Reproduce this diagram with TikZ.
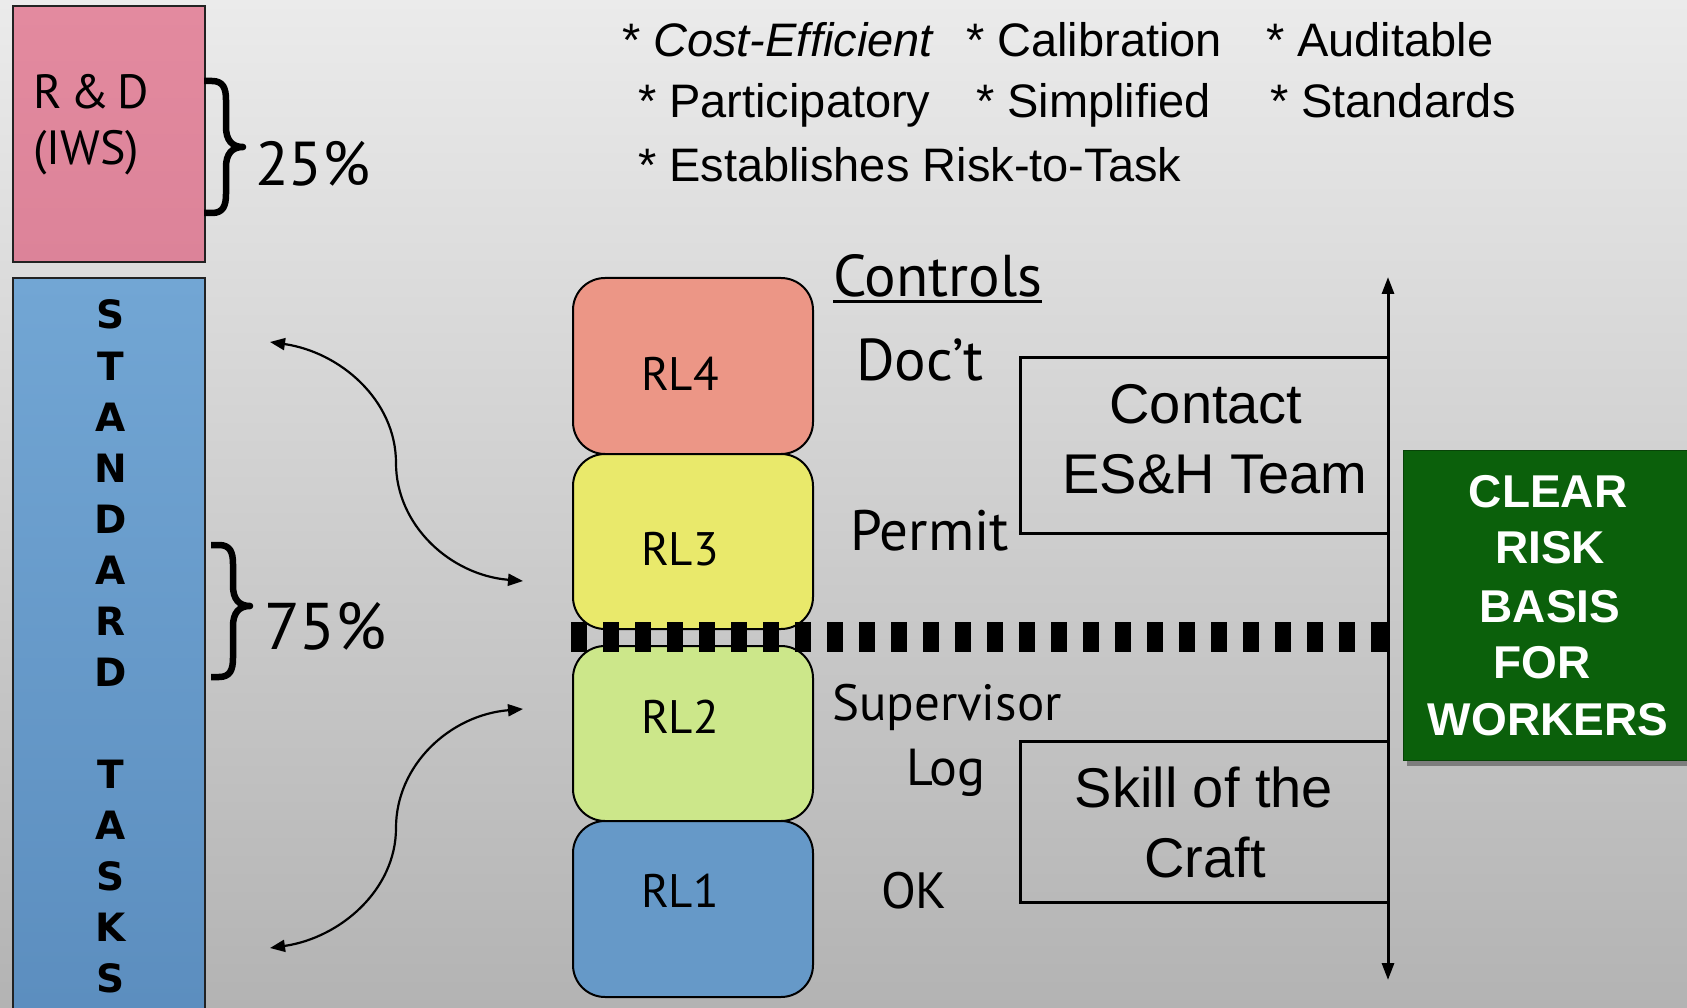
\documentclass[tikz,border=0pt]{standalone}
\usepackage{fontspec}
\setmainfont{Liberation Sans}
\newfontfamily\gill{PT Sans}
\newfontfamily\verd{DejaVu Sans}
\usetikzlibrary{arrows.meta}
\newcommand\setfs[1]{\fontsize{#1}{#1}\selectfont}
\definecolor{bgtop}{HTML}{EBEBEB}
\definecolor{bgbot}{HTML}{B3B3B3}
\definecolor{rdtop}{HTML}{E38A9F}
\definecolor{rdbot}{HTML}{DC8399}
\definecolor{sttop}{HTML}{72A6D4}
\definecolor{stbot}{HTML}{5B8DBE}
\definecolor{rlfour}{HTML}{EC9686}
\definecolor{rlthree}{HTML}{E9E96B}
\definecolor{rltwo}{HTML}{CCE78A}
\definecolor{rlone}{HTML}{6699C8}
\definecolor{grn}{HTML}{0B600B}
\definecolor{boxline}{HTML}{222222}
\tikzset{
  lbl/.style={inner sep=0pt, outer sep=0pt, anchor=base west},
  lblc/.style={inner sep=0pt, outer sep=0pt, anchor=base},
  rlbox/.style={draw=black, line width=2pt, rounded corners=32pt, minimum width=240pt, inner sep=0pt, anchor=north west},
  brc/.style={line width=6.5pt, line cap=butt, line join=round},
  curv/.style={line width=2.2pt, {Triangle[length=15pt,width=12pt]}-{Triangle[length=15pt,width=12pt]}},
  vline/.style={line width=3pt, {Triangle[length=17pt,width=12pt]}-{Triangle[length=17pt,width=12pt]}},
  frame/.style={line width=3pt, line cap=rect},
  ltr/.style={inner sep=0pt, anchor=base, font=\verd\bfseries\setfs{39}},
  grtxt/.style={inner sep=0pt, anchor=base, text=white, font=\bfseries\setfs{46}},
}
\begin{document}
\begin{tikzpicture}[x=1pt,y=-1pt]
\clip (0,0) rectangle (1687,1008);
\shade[top color=bgtop, bottom color=bgbot] (0,0) rectangle (1687,1008);

% R&D box
\node[draw=boxline, line width=2pt, top color=rdtop, bottom color=rdbot, minimum width=192pt, minimum height=256pt, inner sep=0pt, anchor=north west] (rd) at (12,5) {};
\node[lbl, font=\gill\setfs{48}] (rdt1) at (33,109) {R\hspace{0.18em}\&\hspace{0.18em}D};
\node[lbl, font=\gill\setfs{48}] (rdt2) at (33,165) {(IWS)};
\draw[brc] (204,81) -- (212,81) .. controls (223,81) and (226,88) .. (226,100) -- (226,127) .. controls (226,140) and (232,147) .. (243,147) .. controls (232,147) and (226,154) .. (226,167) -- (226,194) .. controls (226,206) and (223,213) .. (212,213) -- (204,213);
\node[lbl, font=\gill\setfs{62}] (p25) at (255,186) {25\%};

% Standard tasks box
\node[draw=boxline, line width=2pt, top color=sttop, bottom color=stbot, minimum width=192pt, minimum height=760pt, inner sep=0pt, anchor=north west] (st) at (12,277) {};
\foreach \ch/\yy [count=\i] in {S/329, T/380, A/431, N/482, D/533, A/584, R/635, D/686, T/788, A/839, S/890, K/941, S/992}
  \node[ltr] (stl\i) at (111,\yy) {\ch};
\draw[brc] (211,545) -- (219,545) .. controls (230,545) and (233,552) .. (233,564) -- (233,586) .. controls (233,599) and (239,606) .. (250,606) .. controls (239,606) and (233,613) .. (233,626) -- (233,658) .. controls (233,670) and (230,677) .. (219,677) -- (211,677);
\node[lbl, font=\gill\setfs{66}] (p75) at (264,649) {75\%};

% curved arrows
\coordinate (ua1) at (270,342);
\coordinate (ua2) at (523,581);
\coordinate (la1) at (523,709);
\coordinate (la2) at (270,948);
\draw[curv] (ua1) .. controls (340,352) and (396,400) .. (396,463) .. controls (396,525) and (450,575) .. (ua2);
\draw[curv] (la1) .. controls (450,715) and (396,765) .. (396,828) .. controls (396,890) and (340,938) .. (la2);

% top bullet text
\node[lbl, font=\setfs{47}] (b1) at (622,57) {* \textit{Cost-Efficient}};
\node[lbl, font=\setfs{47}] (b2) at (966,57) {* Calibration};
\node[lbl, font=\setfs{47}] (b3) at (1266,57) {* Auditable};
\node[lbl, font=\setfs{47}] (b4) at (638,118) {* Participatory};
\node[lbl, font=\setfs{47}] (b5) at (976,118) {* Simplified};
\node[lbl, font=\setfs{47}] (b6) at (1270,118) {* Standards};
\node[lbl, font=\setfs{47}] (b7) at (638,182) {* Establishes Risk-to-Task};

% RL boxes
\node[rlbox, fill=rlfour, minimum height=176pt] (rl4) at (572,277) {};
\node[rlbox, fill=rlthree, minimum height=175pt] (rl3) at (572,453) {};
\node[rlbox, fill=rltwo, minimum height=175pt] (rl2) at (572,645) {};
\node[rlbox, fill=rlone, minimum height=176pt] (rl1) at (572,820) {};
\node[lbl, font=\gill\setfs{47}] (rl4t) at (641,390) {RL4};
\node[lbl, font=\gill\setfs{47}] (rl3t) at (641,565) {RL3};
\node[lbl, font=\gill\setfs{47}] (rl2t) at (641,733) {RL2};
\node[lbl, font=\gill\setfs{47}] (rl1t) at (641,907) {RL1};

% dashed divider
\coordinate (d1) at (571,637);
\coordinate (d2) at (1388,637);
\draw[line width=30pt, dash pattern=on 15.5pt off 16.5pt] (d1) -- (d2);

% controls labels
\node[lbl, font=\gill\setfs{59}] (ctl) at (833,297) {Controls};
\draw[line width=3pt] (ctl.south west |- 0,302) -- (ctl.south east |- 0,302);
\node[lbl, font=\gill\setfs{59}] (doc) at (856,380) {Doc’t};
\node[lbl, font=\gill\setfs{57}] (per) at (850,550) {Permit};
\node[lbl, font=\gill\setfs{51}] (sup) at (832,720) {Supervisor};
\node[lbl, font=\gill\setfs{52}] (log) at (906,785) {Log};
\node[lbl, font=\gill\setfs{51}] (ok) at (881,908) {OK};

% vertical arrow
\coordinate (vt) at (1388,277);
\coordinate (vb) at (1388,980);
\draw[vline] (vt) -- (vb);

% Contact box
\coordinate (c1) at (1388,357);
\coordinate (c2) at (1020,357);
\coordinate (c3) at (1020,533);
\coordinate (c4) at (1388,533);
\draw[frame] (c1) -- (c2) -- (c3) -- (c4);
\node[lblc, font=\setfs{56}] (con1) at (1206,423) {Contact};
\node[lblc, font=\setfs{56}] (con2) at (1215,493) {ES\&H Team};

% Skill box
\coordinate (s1) at (1388,741);
\coordinate (s2) at (1020,741);
\coordinate (s3) at (1020,902);
\coordinate (s4) at (1388,902);
\draw[frame] (s1) -- (s2) -- (s3) -- (s4);
\node[lblc, font=\setfs{56}] (sk1) at (1204,807) {Skill of the};
\node[lblc, font=\setfs{56}] (sk2) at (1205,877) {Craft};

% green box
\fill[black, opacity=0.35] (1407,456) rectangle (1700,766);
\node[fill=grn, draw=grn!70!black, line width=1pt, minimum width=300pt, minimum height=310pt, inner sep=0pt, anchor=north west] (grn) at (1403,450) {};
\node[grtxt] (g1) at (1548,507) {CLEAR};
\node[grtxt] (g2) at (1550,563) {RISK};
\node[grtxt] (g3) at (1550,622) {BASIS};
\node[grtxt] (g4) at (1542,678) {FOR};
\node[grtxt] (g5) at (1548,735) {WORKERS};
\end{tikzpicture}
\end{document}
